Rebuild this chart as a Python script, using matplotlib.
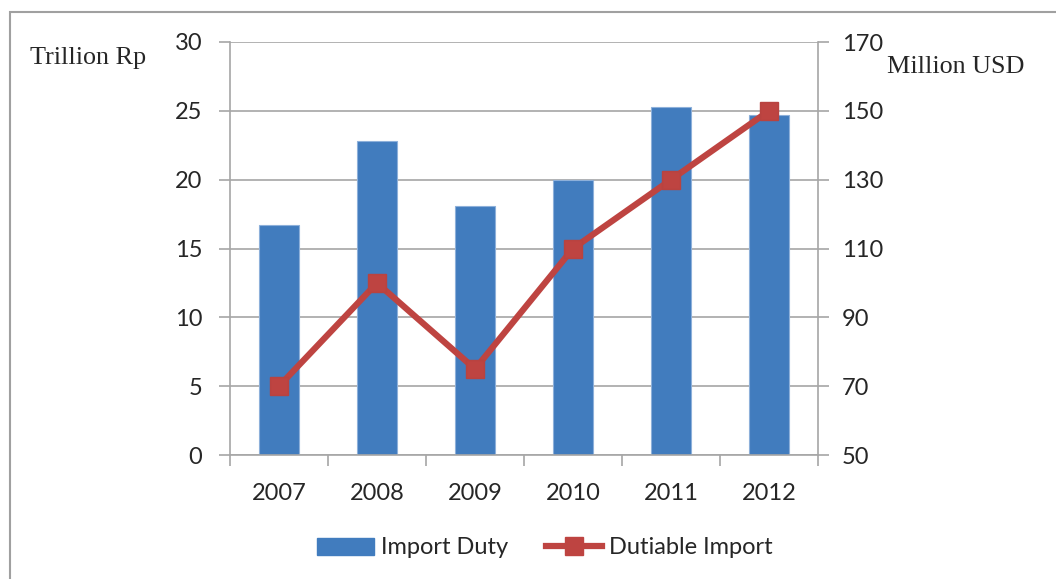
import matplotlib
matplotlib.use("Agg")
import matplotlib.pyplot as plt
from matplotlib.lines import Line2D
from matplotlib.patches import Rectangle, Patch
import numpy as np

years = ["2007", "2008", "2009", "2010", "2011", "2012"]
import_duty = [16.7, 22.8, 18.1, 20.0, 25.3, 24.7]          # Trillion Rp
dutiable_import = [70, 100, 75, 110, 130, 150]               # Million USD
left_ticks = [0, 5, 10, 15, 20, 25, 30]
right_ticks = [50, 70, 90, 110, 130, 150, 170]

BLUE = "#417CBE"
RED = "#BE4441"
GRID = "#A6A6A6"
TXT = "#262626"
NUM_FONT = "Lato"
SERIF = "Liberation Serif"
FS = 17

fig = plt.figure(figsize=(10.56, 5.79), dpi=100)
fig.patch.set_facecolor("white")

# outer frame (cut off at right/bottom like the reference)
fig.patches.append(Rectangle((10/1056, -0.05), 1.2, 1 - 12/579 + 0.05,
                             transform=fig.transFigure, fill=False,
                             edgecolor="#A0A0A0", linewidth=1.5, zorder=0))

ax = fig.add_axes([230/1056, 1 - 455/579, (818-230)/1056, (455-42)/579])
x = np.arange(len(years))
ax.bar(x, import_duty, width=0.41, color=BLUE, edgecolor="#8DB0DA",
       linewidth=0.8, zorder=2)
ax.set_xlim(-0.5, len(years) - 0.5)
ax.set_ylim(0, 30)
ax.set_yticks(left_ticks)
ax.yaxis.grid(True, color=GRID, linewidth=1.2, zorder=0)
ax.set_axisbelow(True)
ax.set_xticks(x)
ax.set_xticklabels(years)
ax.set_xticks(np.arange(len(years) + 1) - 0.5, minor=True)
ax.tick_params(axis="x", which="major", length=0, pad=20,
               labelsize=FS, labelcolor=TXT)
ax.tick_params(axis="x", which="minor", length=8, width=1.2, color=GRID,
               direction="out")
ax.tick_params(axis="y", length=8, width=1.2, color=GRID, direction="out",
               pad=12, labelsize=FS, labelcolor=TXT)
for s in ["top", "right"]:
    ax.spines[s].set_visible(False)
for s in ["left", "bottom"]:
    ax.spines[s].set_color(GRID)
    ax.spines[s].set_linewidth(1.2)
for lbl in ax.get_xticklabels() + ax.get_yticklabels():
    lbl.set_fontfamily(NUM_FONT)

ax2 = ax.twinx()
ax2.plot(x, dutiable_import, color=RED, linewidth=4.5, marker="s",
         markersize=13, markerfacecolor=RED, markeredgecolor="#B84340",
         zorder=3)
ax2.set_ylim(50, 170)
ax2.set_yticks(right_ticks)
ax2.tick_params(axis="y", length=8, width=1.2, color=GRID, direction="out",
                pad=9, labelsize=FS, labelcolor=TXT)
for s in ["top", "left", "bottom"]:
    ax2.spines[s].set_visible(False)
ax2.spines["right"].set_color(GRID)
ax2.spines["right"].set_linewidth(1.2)
for lbl in ax2.get_yticklabels():
    lbl.set_fontfamily(NUM_FONT)

fig.text(30/1056, 1 - 58/579, "Trillion Rp", fontfamily=SERIF,
         fontsize=18.8, color=TXT, ha="left", va="center")
fig.text(887/1056, 1 - 67/579, "Million USD", fontfamily=SERIF,
         fontsize=18.8, color=TXT, ha="left", va="center")

handles = [Patch(facecolor=BLUE, edgecolor=BLUE),
           Line2D([0], [0], color=RED, linewidth=4.5, marker="s",
                  markersize=13, markerfacecolor=RED)]
leg = fig.legend(handles, ["Import Duty", "Dutiable Import"],
                 loc="center", bbox_to_anchor=(545/1056, 1 - 548/579),
                 ncol=2, frameon=False, handlelength=2.4, handleheight=0.75,
                 handletextpad=0.3, columnspacing=1.6,
                 prop={"family": NUM_FONT, "size": FS})
for t in leg.get_texts():
    t.set_color(TXT)

fig.savefig("out.png", dpi=100, facecolor="white")
